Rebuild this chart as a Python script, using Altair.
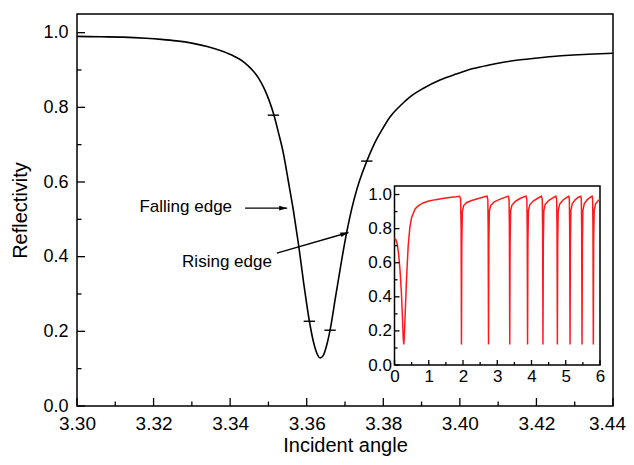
import altair as alt
import pandas as pd

# ---------------- data ----------------
angle = [3.300, 3.306, 3.312, 3.318, 3.322, 3.326, 3.330, 3.334, 3.338, 3.341,
         3.3435, 3.3455, 3.3475, 3.349, 3.3502, 3.3513, 3.3526, 3.3539, 3.3552, 3.3565,
         3.3578, 3.3592, 3.3607, 3.3618, 3.3627, 3.3635, 3.3643, 3.3652, 3.3661, 3.3675,
         3.3690, 3.3704, 3.3718, 3.3732, 3.3745, 3.3757, 3.3775, 3.3795, 3.3818, 3.3843,
         3.3870, 3.3905, 3.3948, 3.3990, 3.4035, 3.4080, 3.4122, 3.4165, 3.4209, 3.4250,
         3.4296, 3.4350, 3.4400]
reflectivity = [0.990, 0.989, 0.988, 0.985, 0.982, 0.978, 0.972, 0.963, 0.950, 0.937,
                0.922, 0.903, 0.877, 0.848, 0.818, 0.784, 0.733, 0.677, 0.602, 0.525,
                0.437, 0.330, 0.227, 0.170, 0.140, 0.129, 0.135, 0.162, 0.203, 0.290,
                0.383, 0.463, 0.530, 0.584, 0.624, 0.656, 0.699, 0.737, 0.775, 0.803,
                0.828, 0.851, 0.873, 0.889, 0.904, 0.914, 0.922, 0.928, 0.933, 0.937,
                0.940, 0.943, 0.945]

inset_x = [0.00, 0.04, 0.08, 0.12, 0.16, 0.20, 0.23, 0.255, 0.27, 0.285,
           0.31, 0.35, 0.40, 0.45, 0.50, 0.60, 0.70, 0.85, 1.00, 1.20,
           1.40, 1.60, 1.80, 1.90,
           1.93, 1.945, 1.955, 1.965, 1.98, 2.02, 2.10, 2.25, 2.45, 2.65, 2.70,
           2.725, 2.735, 2.745, 2.755, 2.77, 2.81, 2.90, 3.05, 3.20, 3.32,
           3.345, 3.355, 3.365, 3.375, 3.39, 3.43, 3.52, 3.65, 3.80, 3.84,
           3.865, 3.875, 3.885, 3.895, 3.91, 3.95, 4.05, 4.18, 4.29,
           4.315, 4.325, 4.335, 4.345, 4.36, 4.40, 4.50, 4.62, 4.71,
           4.735, 4.745, 4.755, 4.765, 4.78, 4.82, 4.92, 5.02, 5.09,
           5.105, 5.115, 5.125, 5.135, 5.15, 5.19, 5.28, 5.37, 5.44,
           5.455, 5.465, 5.475, 5.485, 5.50, 5.54, 5.63, 5.72, 5.77,
           5.785, 5.795, 5.805, 5.815, 5.83, 5.87, 5.95, 6.00]
inset_y = [0.745, 0.735, 0.710, 0.650, 0.560, 0.430, 0.290, 0.160, 0.120, 0.160,
           0.290, 0.500, 0.700, 0.810, 0.865, 0.915, 0.935, 0.952, 0.962, 0.970,
           0.976, 0.982, 0.987, 0.990,
           0.975, 0.800, 0.120, 0.700, 0.900, 0.935, 0.952, 0.965, 0.977, 0.988, 0.990,
           0.970, 0.800, 0.120, 0.720, 0.905, 0.935, 0.955, 0.970, 0.982, 0.990,
           0.970, 0.800, 0.120, 0.720, 0.905, 0.938, 0.958, 0.975, 0.988, 0.990,
           0.970, 0.800, 0.120, 0.720, 0.905, 0.940, 0.962, 0.978, 0.990,
           0.970, 0.800, 0.120, 0.720, 0.905, 0.942, 0.965, 0.980, 0.990,
           0.970, 0.800, 0.120, 0.720, 0.905, 0.942, 0.968, 0.982, 0.990,
           0.970, 0.800, 0.120, 0.720, 0.905, 0.945, 0.970, 0.984, 0.990,
           0.970, 0.800, 0.120, 0.720, 0.905, 0.945, 0.970, 0.985, 0.990,
           0.970, 0.800, 0.120, 0.720, 0.905, 0.945, 0.965, 0.972]

x_major = [3.30, 3.32, 3.34, 3.36, 3.38, 3.40, 3.42, 3.44]
x_minor = [3.31, 3.33, 3.35, 3.37, 3.39, 3.41, 3.43]
y_major = [0.0, 0.2, 0.4, 0.6, 0.8, 1.0]
y_minor = [0.1, 0.3, 0.5, 0.7, 0.9]

inset_x_major = [0, 1, 2, 3, 4, 5, 6]
inset_x_minor = [0.5, 1.5, 2.5, 3.5, 4.5, 5.5]
inset_y_major = [0.0, 0.2, 0.4, 0.6, 0.8, 1.0]
inset_y_minor = [0.1, 0.3, 0.5, 0.7, 0.9]

mark_x = [3.3513, 3.3607, 3.3661, 3.3757]
mark_y = [0.779, 0.227, 0.203, 0.656]

labels = ["Falling edge", "Rising edge"]
label_x = [3.3405, 3.3509]
label_y = [0.534, 0.387]
arrow_x0 = [3.3439, 3.3522]
arrow_y0 = [0.530, 0.4096]
arrow_x1 = [3.3549, 3.3709]
arrow_y1 = [0.530, 0.4647]
arrow_angle = [0, 344]

# ---------------- layout ----------------
W, H = 536, 392
FONT = "Liberation Sans"

xs = alt.Scale(domain=[3.30, 3.44], nice=False, zero=False)
ys = alt.Scale(domain=[0, 1.05], nice=False, zero=False)
xi = alt.Scale(domain=[0, 6], range=[317.5, 523], nice=False, zero=False)
yi = alt.Scale(domain=[0, 1.05], range=[351, 172], nice=False, zero=False)

ax_main_x = alt.Axis(values=x_major, format=".2f", ticks=False, domain=False, grid=False,
                     labelFontSize=19, labelPadding=8, title="Incident angle",
                     titleFontSize=20, titleFontWeight="normal", titlePadding=2,
                     labelFlush=False,
                     labelOffset={"condition": {"test": "datum.value > 3.435", "value": -6},
                                  "value": 0})
ax_main_y = alt.Axis(values=y_major, format=".1f", ticks=False, domain=False, grid=False,
                     labelFontSize=18, labelPadding=9, title="Reflectivity",
                     titleFontSize=20, titleFontWeight="normal", titlePadding=12,
                     labelFlush=False)
ax_in_x = alt.Axis(orient="bottom", offset=351 - H, values=inset_x_major, format="d",
                   ticks=False, domain=False, grid=False, labelFontSize=17,
                   labelPadding=3, title=None, labelFlush=False)
ax_in_y = alt.Axis(orient="left", offset=-317.5, values=inset_y_major, format=".1f",
                   ticks=False, domain=False, grid=False, labelFontSize=17,
                   labelPadding=3, title=None, labelFlush=False)


def xticks(vals, length, scale, axis, ybase):
    return alt.Chart(pd.DataFrame({"v": vals})).mark_rule(color="black", strokeWidth=1.3).encode(
        x=alt.X("v:Q", scale=scale, axis=axis),
        y=alt.value(ybase), y2=alt.value(ybase - length))


def yticks(vals, length, scale, axis, xbase):
    return alt.Chart(pd.DataFrame({"v": vals})).mark_rule(color="black", strokeWidth=1.3).encode(
        y=alt.Y("v:Q", scale=scale, axis=axis),
        x=alt.value(xbase), x2=alt.value(xbase + length))


main_df = pd.DataFrame({"angle": angle, "refl": reflectivity})
curve = alt.Chart(main_df).mark_line(color="black", strokeWidth=1.6, interpolate="monotone").encode(
    x=alt.X("angle:Q", scale=xs, axis=ax_main_x),
    y=alt.Y("refl:Q", scale=ys, axis=ax_main_y),
)

marks_df = pd.DataFrame({"x": mark_x, "y": mark_y})
edge_marks = alt.Chart(marks_df).mark_point(shape="M -1 0 L 1 0", size=130, filled=False,
                                              color="black", strokeWidth=1.4, opacity=1).encode(
    x=alt.X("x:Q", scale=xs, axis=ax_main_x), y=alt.Y("y:Q", scale=ys, axis=ax_main_y))

ann_df = pd.DataFrame({"label": labels, "lx": label_x, "ly": label_y,
                       "x0": arrow_x0, "y0": arrow_y0, "x1": arrow_x1, "y1": arrow_y1,
                       "ang": arrow_angle})
texts = alt.Chart(ann_df).mark_text(align="right", baseline="middle", font=FONT, fontSize=17,
                                    color="black").encode(
    x=alt.X("lx:Q", scale=xs, axis=ax_main_x), y=alt.Y("ly:Q", scale=ys, axis=ax_main_y),
    text="label:N")
shafts = alt.Chart(ann_df).mark_rule(color="black", strokeWidth=1.4).encode(
    x=alt.X("x0:Q", scale=xs, axis=ax_main_x), y=alt.Y("y0:Q", scale=ys, axis=ax_main_y),
    x2="x1:Q", y2="y1:Q")
heads = alt.Chart(ann_df).mark_point(shape="M -2 -0.6 L 0 0 L -2 0.6 Z", size=64, filled=True,
                                     color="black", opacity=1).encode(
    x=alt.X("x1:Q", scale=xs, axis=ax_main_x), y=alt.Y("y1:Q", scale=ys, axis=ax_main_y),
    angle=alt.Angle("ang:Q", scale=None))

main = alt.layer(
    curve,
    xticks(x_major, 8, xs, ax_main_x, H), xticks(x_minor, 4.5, xs, ax_main_x, H),
    yticks(y_major, 8, ys, ax_main_y, 0), yticks(y_minor, 4.5, ys, ax_main_y, 0),
    edge_marks, shafts, heads, texts,
)

# ---------------- inset ----------------
frame_df = pd.DataFrame({"x0": [0], "x1": [6], "y0": [0], "y1": [1.05]})
frame = alt.Chart(frame_df).mark_rect(fill="white", stroke="black", strokeWidth=1.5).encode(
    x=alt.X("x0:Q", scale=xi, axis=ax_in_x), x2="x1:Q",
    y=alt.Y("y0:Q", scale=yi, axis=ax_in_y), y2="y1:Q")

inset_df = pd.DataFrame({"x": inset_x, "y": inset_y})
inset_line = alt.Chart(inset_df).mark_line(color="#ff1a1a", strokeWidth=1.5).encode(
    x=alt.X("x:Q", scale=xi, axis=ax_in_x), y=alt.Y("y:Q", scale=yi, axis=ax_in_y))

inset = alt.layer(
    frame, inset_line,
    xticks(inset_x_major, 5, xi, ax_in_x, 351), xticks(inset_x_minor, 3, xi, ax_in_x, 351),
    yticks(inset_y_major, 5, yi, ax_in_y, 317.5), yticks(inset_y_minor, 3, yi, ax_in_y, 317.5),
)

chart = alt.layer(main, inset).resolve_scale(x="independent", y="independent").properties(
    width=W, height=H,
    autosize=alt.AutoSizeParams(type="none"),
    padding={"left": 69, "top": 6, "right": 13, "bottom": 51},
).configure_view(stroke="black", strokeWidth=1.5).configure_axis(
    labelFont=FONT, titleFont=FONT, labelColor="black", titleColor="black"
)

chart.save("out.html", embed_options={"renderer": "svg", "actions": False})
